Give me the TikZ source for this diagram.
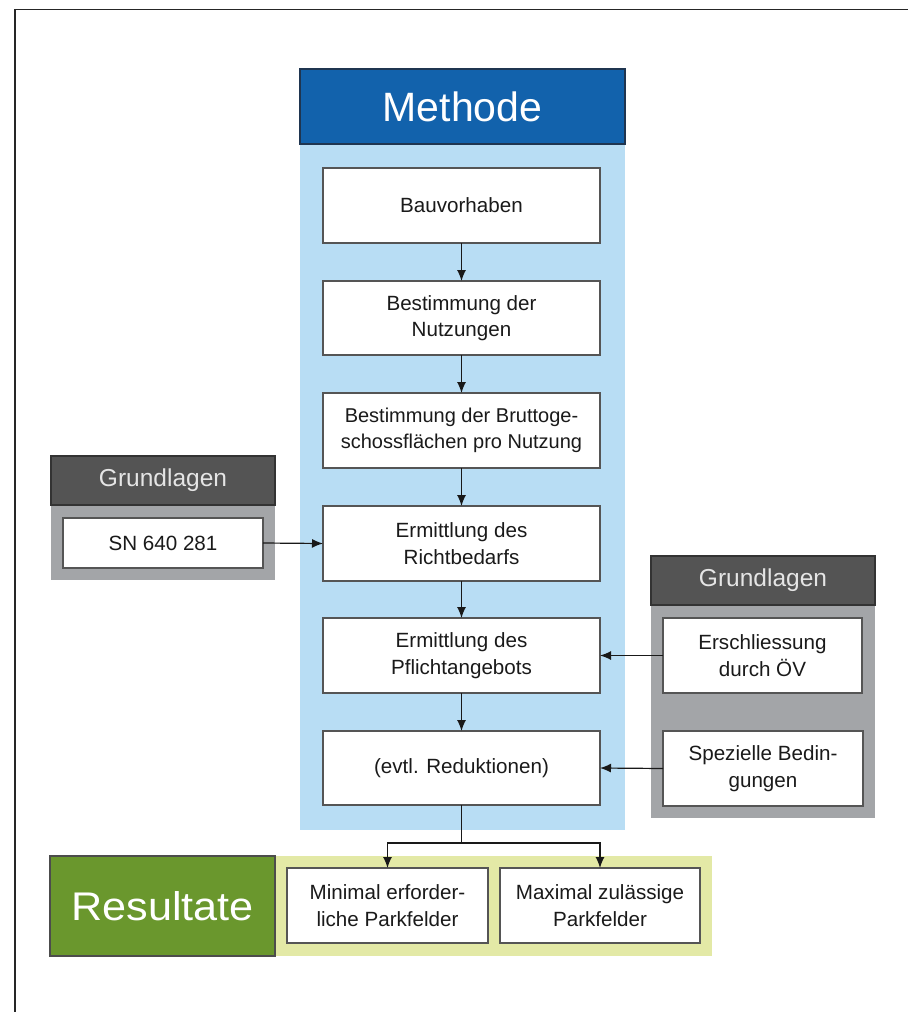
\documentclass[tikz,border=0pt]{standalone}
\usepackage{fontspec}
\setmainfont{Liberation Sans}
\usetikzlibrary{arrows.meta}
\definecolor{mblue}{HTML}{1262AC}
\definecolor{mbluedark}{HTML}{1F3550}
\definecolor{lblue}{HTML}{B8DDF4}
\definecolor{ghead}{HTML}{545454}
\definecolor{gpanel}{HTML}{A3A5A8}
\definecolor{rgreen}{HTML}{6A972D}
\definecolor{ryellow}{HTML}{E3E9A6}
\definecolor{boxline}{HTML}{555555}
\definecolor{txt}{HTML}{1A1A1A}
\tikzset{
  panel/.style={draw=none, inner sep=0pt, outer sep=0pt},
  headbox/.style={draw=#1, line width=1.2pt, inner sep=0pt, outer sep=0pt},
  stepbox/.style={draw=boxline, line width=1.3pt, fill=white, inner sep=0pt, outer sep=0pt,
    align=center, text=txt, font=\fontsize{20.6}{26.5}\selectfont},
  conn/.style={draw=black!90, line width=1.2pt, -{Latex[length=11pt,width=9pt]}},
  frameline/.style={draw=black!85, line width=1.4pt}
}
\begin{document}
\begin{tikzpicture}[x=1pt,y=-1pt]
\useasboundingbox (0,0) rectangle (908,1012);
% frame
\draw[frameline] (15,1012) -- (15,9.5) -- (908,9.5);

% Methode column
\node[panel, fill=lblue, minimum width=325, minimum height=686] (bluepanel) at (462.5,487) {};
\node[headbox=mbluedark, fill=mblue, minimum width=325, minimum height=75,
  text=white, font=\fontsize{41}{41}\selectfont] (methode) at (462.5,106.5) {Methode};

\node[stepbox, minimum width=277, minimum height=75] (b1) at (461.5,205.5) {Bauvorhaben};
\node[stepbox, minimum width=277, minimum height=74] (b2) at (461.5,318) {Bestimmung der\\Nutzungen};
\node[stepbox, minimum width=277, minimum height=75, font=\fontsize{20}{26.5}\selectfont] (b3) at (461.5,430.5) {Bestimmung der Bruttoge-\\schossflächen pro Nutzung};
\node[stepbox, minimum width=277, minimum height=75] (b4) at (461.5,543.5) {Ermittlung des\\Richtbedarfs};
\node[stepbox, minimum width=277, minimum height=75] (b5) at (461.5,655.5) {Ermittlung des\\Pflichtangebots};
\node[stepbox, minimum width=277, minimum height=74] (b6) at (461.5,768) {(evtl. Reduktionen)};

\draw[conn] (b1.south) -- (b2.north);
\draw[conn] (b2.south) -- (b3.north);
\draw[conn] (b3.south) -- (b4.north);
\draw[conn] (b4.south) -- (b5.north);
\draw[conn] (b5.south) -- (b6.north);

% left Grundlagen
\node[panel, fill=gpanel, minimum width=224, minimum height=75] (lpanel) at (163,542.5) {};
\node[headbox=black!80, fill=ghead, minimum width=224, minimum height=49,
  text=white!90!black, font=\fontsize{24.5}{24.5}\selectfont] (lhead) at (163,480.5) {Grundlagen};
\node[stepbox, minimum width=200, minimum height=50] (sn) at (163,543) {SN 640 281};
\draw[conn] (sn.east) -- (b4.west);

% right Grundlagen
\node[panel, fill=gpanel, minimum width=224, minimum height=213] (rpanel) at (763,711.5) {};
\node[headbox=black!80, fill=ghead, minimum width=224, minimum height=49,
  text=white!90!black, font=\fontsize{24.5}{24.5}\selectfont] (rhead) at (763,580.5) {Grundlagen};
\node[stepbox, minimum width=199, minimum height=75] (er) at (762.5,655.5) {Erschliessung\\durch ÖV};
\node[stepbox, minimum width=200, minimum height=75] (sp) at (763,768.5) {Spezielle Bedin-\\gungen};
\draw[conn] (er.west) -- (b5.east);
\draw[conn] (sp.west) -- (b6.east);

% Resultate
\node[panel, fill=ryellow, minimum width=437, minimum height=100] (ypanel) at (493.5,906) {};
\node[headbox=black!70, fill=rgreen, minimum width=225, minimum height=100,
  text=white, font=\fontsize{40}{40}\selectfont] (res) at (162.5,906) {\scalebox{1.08}[1]{Resultate}};
\node[stepbox, minimum width=201, minimum height=75] (mn) at (387.5,905.5) {Minimal erforder-\\liche Parkfelder};
\node[stepbox, minimum width=200, minimum height=75] (mx) at (600,905.5) {Maximal zulässige\\Parkfelder};

\coordinate (j) at (461.5,843);
\draw[draw=black!90, line width=1.2pt] (b6.south) -- (j);
\draw[conn] (j) -| (mn.north);
\draw[conn] (j) -| (mx.north);
\end{tikzpicture}
\end{document}
